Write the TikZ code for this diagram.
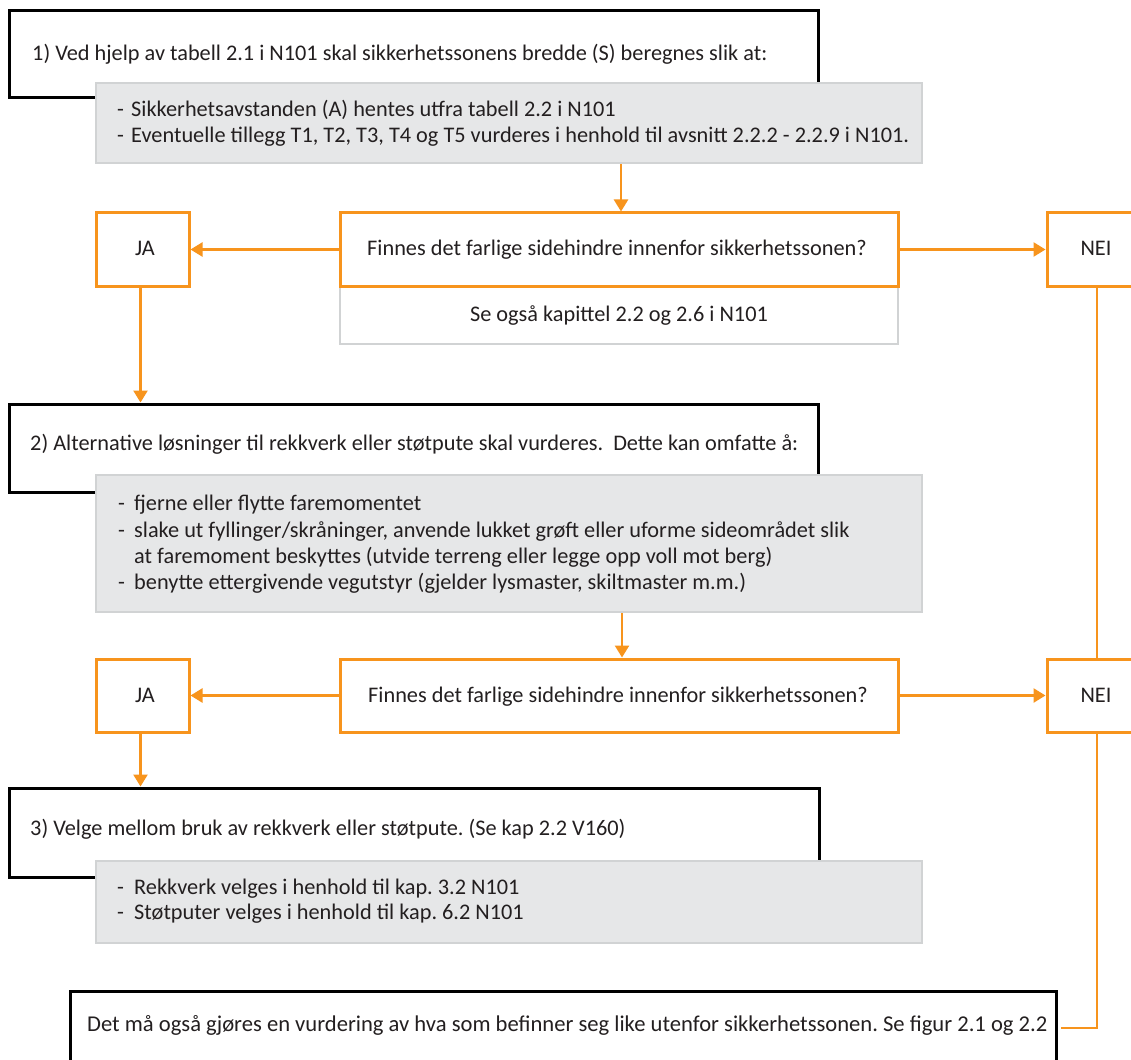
\documentclass[tikz,border=0pt]{standalone}
\usepackage{fontspec}
\setmainfont{Carlito}
\usetikzlibrary{arrows.meta}
\definecolor{org}{HTML}{F7941D}
\definecolor{gfill}{HTML}{E6E7E8}
\definecolor{gline}{HTML}{D1D3D4}
\definecolor{txt}{HTML}{231F20}
\frenchspacing
\begin{document}
\begin{tikzpicture}[x=1pt,y=-1pt,
  blackbox/.style={draw=black,line width=3pt,fill=white,inner sep=0pt},
  greybox/.style={draw=gline,line width=2.2pt,fill=gfill,inner sep=0pt},
  orbox/.style={draw=org,line width=3pt,fill=white,inner sep=0pt},
  subbox/.style={draw=gline,line width=2.2pt,fill=white,inner sep=0pt},
  conn/.style={draw=org,line width=2.5pt},
  arr/.style={conn,-{Triangle[length=12pt,width=14pt]}},
  tx/.style={anchor=base west,inner sep=0pt,text=txt,font=\fontsize{22.3}{26}\selectfont},
  ctx/.style={anchor=base,inner sep=0pt,text=txt,font=\fontsize{22.3}{26}\selectfont},
  bx/.style={anchor=base west,inner sep=0pt,text=txt,font=\fontsize{22.6}{26}\selectfont}
]
\useasboundingbox (0,0) rectangle (1131,1059);
\clip (0,0) rectangle (1131,1059);
\fill[white] (0,0) rectangle (1131,1059);

% ---- step 1
\node[blackbox,minimum width=809pt,minimum height=87pt] (b1) at (413.5,54.5) {};
\node[tx] (t1) at (32,61) {1) Ved hjelp av tabell 2.1 i N101 skal sikkerhetssonens bredde (S) beregnes slik at:};
\node[greybox,minimum width=826pt,minimum height=80pt] (g1) at (509,123) {};
\node[tx] (g1ad) at (117,117) {-};
\node[tx] (g1a) at (131,117) {Sikkerhetsavstanden (A) hentes utfra tabell 2.2 i N101};
\node[tx] (g1bd) at (117,143) {-};
\node[tx] (g1b) at (131,143) {Eventuelle tillegg T1, T2, T3, T4 og T5 vurderes i henhold til avsnitt 2.2.2 - 2.2.9 i N101.};

% ---- question 1
\node[subbox,minimum width=558pt,minimum height=58pt] (s1) at (619,315) {};
\node[ctx] (s1t) at (619,321) {Se også kapittel 2.2 og 2.6 i N101};
\node[orbox,minimum width=558pt,minimum height=73pt] (q1) at (619,249.5) {};
\node[ctx] (q1t) at (617,255) {Finnes det farlige sidehindre innenfor sikkerhetssonen?};
\node[orbox,minimum width=93pt,minimum height=73pt] (ja1) at (142.5,249.5) {};
\node[ctx] (ja1t) at (145,255) {JA};
\node[orbox,minimum width=100pt,minimum height=73pt] (nei1) at (1097,249.5) {};
\node[ctx] (nei1t) at (1096,255) {NEI};

% ---- step 2
\node[blackbox,minimum width=809pt,minimum height=88pt] (b2) at (413.5,448) {};
\node[tx] (t2) at (30,450) {2) Alternative løsninger til rekkverk eller støtpute skal vurderes.\ \ Dette kan omfatte å:};
\node[greybox,minimum width=826pt,minimum height=137pt] (g2) at (509,543.5) {};
\node[tx] (g2ad) at (118,510) {-};
\node[tx] (g2a) at (134,510) {fjerne eller flytte faremomentet};
\node[tx] (g2bd) at (118,537) {-};
\node[tx] (g2b) at (134,537) {slake ut fyllinger/skråninger, anvende lukket grøft eller uforme sideområdet slik};
\node[tx] (g2c) at (134,563) {at faremoment beskyttes (utvide terreng eller legge opp voll mot berg)};
\node[tx] (g2dd) at (118,589) {-};
\node[tx] (g2d) at (134,589) {benytte ettergivende vegutstyr (gjelder lysmaster, skiltmaster m.m.)};

% ---- question 2
\node[orbox,minimum width=558pt,minimum height=73pt] (q2) at (619,695.5) {};
\node[ctx] (q2t) at (618,702) {Finnes det farlige sidehindre innenfor sikkerhetssonen?};
\node[orbox,minimum width=93pt,minimum height=73pt] (ja2) at (142.5,695.5) {};
\node[ctx] (ja2t) at (145,702) {JA};
\node[orbox,minimum width=100pt,minimum height=73pt] (nei2) at (1097,695.5) {};
\node[ctx] (nei2t) at (1096,702) {NEI};

% ---- step 3
\node[blackbox,minimum width=810pt,minimum height=89pt] (b3) at (414,832.5) {};
\node[tx] (t3) at (30,835) {3) Velge mellom bruk av rekkverk eller støtpute. (Se kap 2.2 V160)};
\node[greybox,minimum width=826pt,minimum height=82pt] (g3) at (509,902) {};
\node[tx] (g3ad) at (117,894) {-};
\node[tx] (g3a) at (134,894) {Rekkverk velges i henhold til kap. 3.2 N101};
\node[tx] (g3bd) at (117,919) {-};
\node[tx] (g3b) at (134,919) {Støtputer velges i henhold til kap. 6.2 N101};

% ---- bottom
\node[blackbox,minimum width=986pt,minimum height=74pt] (bb) at (563,1028) {};
\node[bx] (bbt) at (87,1031) {Det må også gjøres en vurdering av hva som befinner seg like utenfor sikkerhetssonen. Se figur 2.1 og 2.2};

% ---- connectors
\draw[arr] ([xshift=2pt]q1.north |- g1.south) -- ([xshift=2pt]q1.north);
\draw[arr] (q1.west) -- (ja1.east);
\draw[arr] (q1.east) -- (nei1.west);
\draw[arr] ([xshift=-2pt]ja1.south) -- ([xshift=-2pt]ja1.south |- b2.north);
\draw[arr] ([xshift=3pt]q2.north |- g2.south) -- ([xshift=3pt]q2.north);
\draw[arr] (q2.west) -- (ja2.east);
\draw[arr] (q2.east) -- (nei2.west);
\draw[arr] ([xshift=-2pt]ja2.south) -- ([xshift=-2pt]ja2.south |- b3.north);
\draw[conn] (nei1.south) -- (nei2.north);
\draw[conn] (nei2.south) |- ([xshift=3pt]bb.east);
\end{tikzpicture}
\end{document}
